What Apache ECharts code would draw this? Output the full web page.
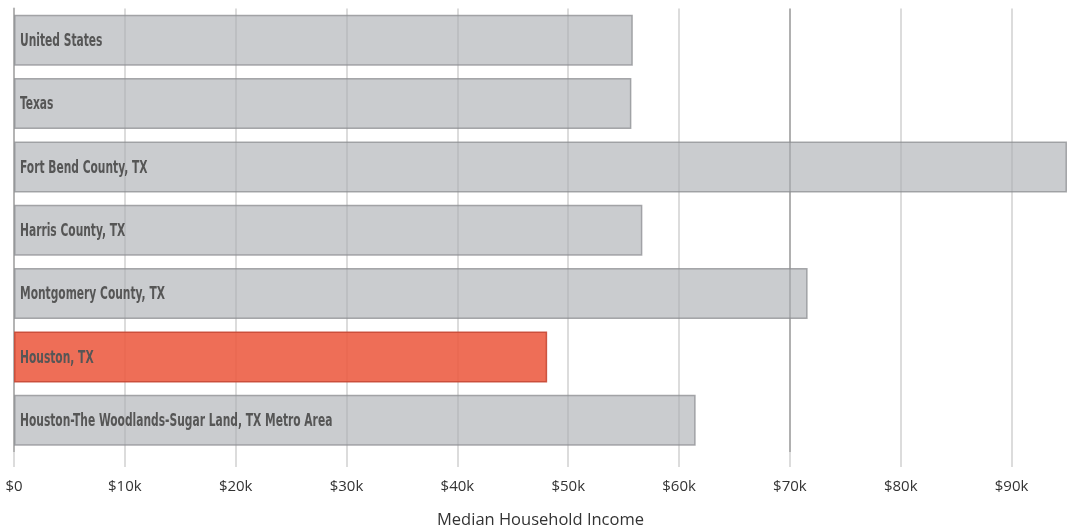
<!DOCTYPE html>
<html>
<head>
<meta charset="utf-8">
<script src="https://cdn.jsdelivr.net/npm/echarts@6/dist/echarts.min.js"></script>
<style>
  html, body { margin: 0; padding: 0; background: #fff; }
  #chart { width: 1067px; height: 532px; }
</style>
</head>
<body>
<div id="chart"></div>
<script>
// Median household income by place
const places = [
  'United States',
  'Texas',
  'Fort Bend County, TX',
  'Harris County, TX',
  'Montgomery County, TX',
  'Houston, TX',
  'Houston-The Woodlands-Sugar Land, TX Metro Area'
];
const incomes = [55830, 55700, 95000, 56690, 71600, 48100, 61500];
const highlighted = 'Houston, TX';
const tickValues = [0, 10000, 20000, 30000, 40000, 50000, 60000, 70000, 80000, 90000];

const grey = { color: 'rgba(170,172,178,0.62)', borderColor: 'rgba(140,141,145,0.75)', borderWidth: 1.5 };
const red = { color: 'rgba(236,90,64,0.88)', borderColor: 'rgba(200,72,52,0.9)', borderWidth: 1.5 };

// narrow, tall place names drawn at the start of each bar
function renderName(params, api) {
  const idx = api.value(1);
  const pt = api.coord([0, idx]);
  return {
    type: 'text',
    x: pt[0] + 6,
    y: pt[1] + 1,
    scaleX: 0.66,
    scaleY: 1,
    style: {
      text: places[idx],
      font: 'bold 18px "DejaVu Sans Condensed", "DejaVu Sans", sans-serif',
      fill: '#565656',
      align: 'left',
      verticalAlign: 'middle'
    }
  };
}

const chart = echarts.init(document.getElementById('chart'));
chart.setOption({
  animation: false,
  grid: { left: 14, right: 0, top: 8.5, bottom: 80, containLabel: false, outerBoundsMode: 'none' },
  xAxis: {
    type: 'value',
    min: 0,
    max: 95000,
    interval: 10000,
    name: 'Median Household Income',
    nameLocation: 'middle',
    nameGap: 60,
    nameTextStyle: { fontFamily: 'Open Sans', fontSize: 16.5, color: '#333' },
    axisLine: { show: false },
    axisTick: { show: true, length: 15, customValues: tickValues, lineStyle: { color: '#dcdcdc', width: 2 } },
    axisLabel: {
      margin: 27,
      fontFamily: 'Open Sans',
      fontSize: 15,
      color: '#333',
      customValues: tickValues,
      formatter: v => (v === 0 ? '$0' : '$' + v / 1000 + 'k')
    },
    splitLine: {
      show: true,
      lineStyle: {
        width: 2,
        color: ['#b4b4b4', '#dcdcdc', '#dcdcdc', '#dcdcdc', '#dcdcdc', '#dcdcdc', '#dcdcdc', '#b0b0b0', '#dcdcdc', '#dcdcdc', 'rgba(0,0,0,0)']
      }
    }
  },
  yAxis: {
    type: 'category',
    data: places,
    inverse: true,
    axisLine: { show: true, lineStyle: { color: '#b4b4b4', width: 2 } },
    axisTick: { show: false },
    axisLabel: { show: false },
    splitLine: { show: false }
  },
  series: [
    {
      type: 'bar',
      barWidth: 51,
      data: places.map((p, i) => ({
        value: incomes[i],
        itemStyle: p === highlighted ? red : grey
      }))
    },
    {
      type: 'custom',
      renderItem: renderName,
      encode: { x: 0, y: 1 },
      data: places.map((p, i) => [0, i]),
      z: 5,
      silent: true
    }
  ]
});
</script>
</body>
</html>
